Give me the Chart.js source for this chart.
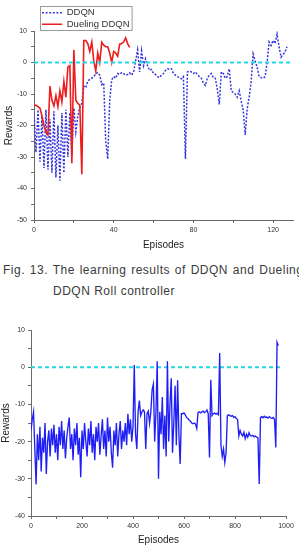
<!DOCTYPE html>
<html><head><meta charset="utf-8">
<script src="https://cdn.jsdelivr.net/npm/chart.js@4.4.0/dist/chart.umd.min.js"></script>
<style>
html,body{margin:0;padding:0;background:#fff;width:299px;height:551px;overflow:hidden;}
#c1{position:absolute;left:0;top:0;}
#c2{position:absolute;left:0;top:318px;}
.cap{position:absolute;font-family:"Liberation Sans",Arial,sans-serif;font-size:12px;color:#3a3a3a;letter-spacing:0.5px;white-space:nowrap;line-height:14px;}
</style></head><body>
<canvas id="c1" width="299" height="252"></canvas>
<div class="cap" style="left:3px;top:263px;word-spacing:1px">Fig. 13. The learning results of DDQN and Dueling</div>
<div class="cap" style="left:53px;top:284px;">DDQN Roll controller</div>
<canvas id="c2" width="299" height="229"></canvas>
<script>
// ---------- Chart 1 data ----------
const ddqnRewards = [
-16,-28.5,-15,-31.5,-17,-33.5,-15,-34,-18,-35,
-15.5,-36.5,-20,-37.5,-16,-35,-15,-30,-16,-29.5,
-14.5,-22,-17,-14,-13,-7.5,-8,-6,-5.3,-5,
-4.5,-3.5,-3.2,-4,-7,-6.5,-25,-30.6,-12,-5.5,
-4.5,-5,-3.5,-3.8,-3.2,-3.5,-4,-3.8,-3.3,-4,
-3,0.5,4,-3,3.7,-1,1.2,-1,-2.5,-2.2,
-3.5,-3.8,-4.5,-4.8,-4,-3.5,-2.5,-2,-2.2,-2,
-3.5,-4,-4.5,-4.8,-5.2,-4.5,-30.6,-3,-2.7,-3,
-3.5,-3,-3.8,-4.5,-5,-6.5,-7.3,-5,-4,-3.5,
-4.8,-5,-8.4,-13.3,-3,-3.5,-5,-4.5,-2,-9,
-9.5,-10,-11,-9,-12.2,-15,-23,-14.7,-11,-6,
2.7,0.5,-1.5,-4.5,-4.8,-5,-4.5,0,6.5,5.4,
7,6,9,5,1.7,2.5,3.3,5
];
const duelingRewards = [
-13.5,-13.6,-14,-14.5,-17,-20,-22,-23,-7.5,-12,
-13.8,-10.5,-14,-9,-12.5,-6,-11,-1.5,-1,-32,
4,-12,-13,-13.5,-35.5,7,7,6,3.5,6.5,
0.5,-2.7,3,0,6.4,5.5,5,5,3,0,
3.5,3,2,5.8,6,6.5,7.8,6,4.8
];
const refLine1Episodes = [0, 130];
const refLine1Rewards = [0, 0];
const seriesNames1 = ['DDQN', 'Dueling DDQN'];
const xTicks1 = [0, 40, 80, 120];
const yTicks1 = [-50, -40, -30, -20, -10, 0, 10];

// ---------- Chart 2 data (one value every 5 episodes) ----------
const episodeStep2 = 5;
const rewards2 = [
-17,-14,-12,-22,-31.5,-18,-25,-16,-28,-19,
-23,-15,-28.7,-20,-17,-24,-16.5,-21,-15.5,-23,
-18,-25,-16,-21,-14.5,-22,-17,-24.5,-19,-16,
-13.5,-22,-18,-25,-16.5,-21,-15,-23.5,-19,-29.6,
-17,-22,-15,-20,-24,-16.5,-21,-14.5,-23,-18,
-25,-16,-20,-15,-23.5,-18.5,-14,-22,-17,-24,
-13.5,-20,-16,-23,-27,-17,-21,-15,-24,-18,
-14.5,-22,-17,-20,-15,-21,-12.5,-18,-14,-20,
-16,0.6,-18,-22,-12,-9,-13,-12,-11.5,-12,
-22,-12.5,-11.8,-15,-12,-6,-4.5,-20,-12,1.6,
-30,-12,-18,-8,-22,-13,-24,1.6,-20,-10,
-3,-23,-15,-5,-21,-3.5,-18,-26,-12.5,-12.5,
-12.3,-12.8,-13.5,-13.8,-14.2,-14.5,-15,-15.2,-15,-15.3,
-16.5,-12.2,-12,-12.3,-12,-11.8,-12.2,-12,-11.5,-12.5,
-24.3,-3.4,-13,-12.5,-12.3,-12.6,-12.4,-12.8,3.8,-21,
-24,-22,-25.6,-23,-13,-12.8,-13,-13.2,-13,-13.5,
-13.3,-13.8,-14,-18.5,-17,-18,-18.5,-17.5,-19.2,-18,
-18.8,-17.6,-18.4,-18.5,-18.3,-18.7,-18.5,-18.8,-19,-31.4,
-13.5,-13.3,-13.6,-13.2,-13.5,-13.4,-13.7,-13.3,-13.6,-13.8,
-13.5,-14,-21.6,6.7,5.8
];
const refLine2Episodes = [0, 988];
const refLine2Rewards = [0, 0];
const xTicks2 = [0, 200, 400, 600, 800, 1000];
const yTicks2 = [-40, -30, -20, -10, 0, 10];

// ---------- helpers ----------
const FAMILY = '"Liberation Sans", Arial, sans-serif';
Chart.defaults.font.family = FAMILY;
Chart.defaults.animation = false;
const toPts = (xs, ys) => ys.map((y, i) => ({x: xs[i], y}));
const idxPts = (ys, step) => ys.map((y, i) => ({x: i * step, y}));

const axisCol = '#6a6a6a';
const tickFont = {size: 7, family: FAMILY};
const titleFont = {size: 10, family: FAMILY};

const legendPlugin = {
  id: 'legendBox',
  afterLayout(chart) {
    const lg = chart.legend;
    if (!lg || !lg.options.display) return;
    const w = lg.width, h = lg.height;
    lg.left = 40; lg.top = 6; lg.right = lg.left + w; lg.bottom = lg.top + h;
  },
  afterDraw(chart) {
    const lg = chart.legend;
    if (!lg || !lg.options.display || !lg.legendHitBoxes.length) return;
    const hb = lg.legendHitBoxes;
    let r = 0;
    hb.forEach(b => { r = Math.max(r, b.left + b.width); });
    const last = hb[hb.length - 1];
    const ctx = chart.ctx;
    ctx.save();
    ctx.strokeStyle = '#9a9a9a';
    ctx.lineWidth = 1;
    ctx.strokeRect(40.5, hb[0].top - 1.5, r + 2 - 40, last.top + last.height + 3 - hb[0].top);
    ctx.restore();
  }
};

function xAxis(min, max, step, labelEvery, labels, height) {
  return {
    type: 'linear', min, max,
    ticks: {stepSize: step, includeBounds: false, autoSkip: false, maxRotation: 0, padding: 3,
      color: '#333', font: tickFont,
      callback: v => (labels.includes(v) ? String(v) : '')},
    grid: {drawOnChartArea: false, tickLength: 3, color: axisCol},
    border: {color: axisCol, width: 1},
    title: {display: true, text: 'Episodes', color: '#222', font: titleFont, padding: {top: 0, bottom: 1}},
    afterFit: s => { s.height = height; }
  };
}
function yAxis(min, max, labels, width, titlePad, pad) {
  return {
    min, max,
    ticks: {stepSize: 5, includeBounds: false, autoSkip: false, padding: pad, color: '#333', font: tickFont,
      callback: v => (labels.includes(v) ? String(v) : '')},
    grid: {drawOnChartArea: false, tickLength: 3, color: axisCol},
    border: {color: axisCol, width: 1},
    title: {display: true, text: 'Rewards', color: '#222', font: titleFont, padding: {top: titlePad, bottom: 0}},
    afterFit: s => { s.width = width; }
  };
}

// ---------- Chart 1 ----------
new Chart(document.getElementById('c1'), {
  type: 'line',
  data: {
    datasets: [
      {label: seriesNames1[0], data: idxPts(ddqnRewards, 1), borderColor: '#3535dc', backgroundColor: '#3535dc',
       borderWidth: 1.5, borderDash: [2, 1.6], pointRadius: 0, tension: 0, order: 2},
      {label: seriesNames1[1], data: idxPts(duelingRewards, 1), borderColor: '#ee1c1c', backgroundColor: '#ee1c1c',
       borderWidth: 1.6, pointRadius: 0, tension: 0, order: 1},
      {label: 'zero', data: toPts(refLine1Episodes, refLine1Rewards), borderColor: '#22d8e8',
       borderWidth: 2, borderDash: [4, 3], pointRadius: 0, tension: 0, order: 0}
    ]
  },
  options: {
    responsive: false,
    layout: {padding: {top: 31, right: 6, bottom: 0, left: 0}},
    plugins: {
      tooltip: {enabled: false},
      legend: {
        position: 'chartArea', align: 'start',
        labels: {
          usePointStyle: true, pointStyleWidth: 20, boxHeight: 9, padding: 2,
          color: '#333', font: {size: 9.5, family: FAMILY},
          generateLabels: (chart) => chart.data.datasets.slice(0, 2).map((ds, i) => ({
            text: ds.label, strokeStyle: ds.borderColor, fillStyle: ds.borderColor,
            lineWidth: ds.borderWidth, lineDash: ds.borderDash || [], pointStyle: 'line',
            datasetIndex: i, hidden: false, fontColor: '#333'
          }))
        }
      }
    },
    scales: {
      x: xAxis(0, 130, 20, 40, xTicks1, 32),
      y: yAxis(-50, 10, yTicks1, 34, 3, 4)
    }
  },
  plugins: [legendPlugin]
});

// ---------- Chart 2 ----------
new Chart(document.getElementById('c2'), {
  type: 'line',
  data: {
    datasets: [
      {label: 'Rewards', data: idxPts(rewards2, episodeStep2), borderColor: '#1f1ff5',
       borderWidth: 1.35, pointRadius: 0, tension: 0, order: 0},
      {label: 'zero', data: toPts(refLine2Episodes, refLine2Rewards), borderColor: '#22d8e8',
       borderWidth: 2, borderDash: [4, 3], pointRadius: 0, tension: 0, order: 1}
    ]
  },
  options: {
    responsive: false,
    layout: {padding: {top: 12, right: 13, bottom: 0, left: 0}},
    plugins: {legend: {display: false}, tooltip: {enabled: false}},
    scales: {
      x: xAxis(0, 1000, 100, 200, xTicks2, 31),
      y: yAxis(-40, 10, yTicks2, 31, 0, 3)
    }
  }
});
</script>
</body></html>
